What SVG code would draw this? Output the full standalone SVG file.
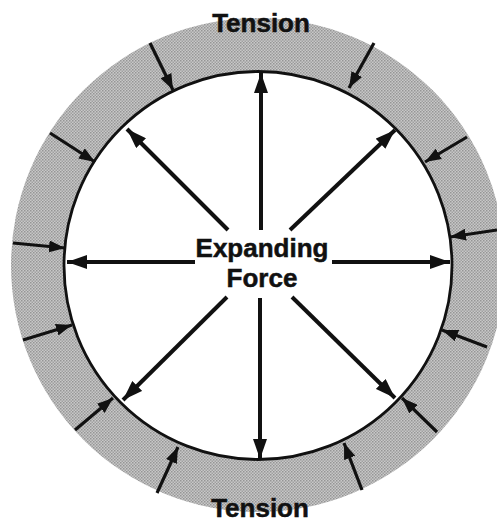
<svg xmlns="http://www.w3.org/2000/svg" width="497" height="522" viewBox="0 0 497 522">
<style>
.lbl{font-family:"Liberation Sans",Arial,sans-serif;font-weight:bold;font-size:26px;fill:#111;stroke:#111;stroke-width:0.5;text-anchor:middle}
.exp{stroke:#111;stroke-width:4;fill:none;marker-end:url(#headL)}
.ten{stroke:#111;stroke-width:3.2;fill:none;marker-end:url(#headS)}
</style>
<defs>
<marker id="headL" markerUnits="userSpaceOnUse" markerWidth="20" markerHeight="14" refX="20" refY="7" orient="auto"><path d="M0,0 L20,7 L0,14 z" fill="#111"/></marker>
<marker id="headS" markerUnits="userSpaceOnUse" markerWidth="16" markerHeight="12" refX="16" refY="6" orient="auto"><path d="M0,0 L16,6 L0,12 z" fill="#111"/></marker>
<pattern id="dots" width="3" height="3" patternUnits="userSpaceOnUse"><rect width="3" height="3" fill="#c8c8c8"/><rect width="1.5" height="1.5" fill="#959595"/><rect x="1.5" y="1.5" width="1.5" height="1.5" fill="#a0a0a0"/></pattern>
</defs>
<rect width="497" height="522" fill="#fff"/>
<g id="ring">
<circle cx="258" cy="265" r="247" fill="url(#dots)"/>
</g>
<g id="inner">
<circle cx="258" cy="265.5" r="194" fill="#fff" stroke="#111" stroke-width="2.8"/>
</g>
<g id="connectors">
<line class="exp" x1="261" y1="230" x2="261" y2="73"/>
<line class="exp" x1="260" y1="298" x2="260" y2="459"/>
<line class="exp" x1="195" y1="262" x2="67" y2="262"/>
<line class="exp" x1="332" y1="262" x2="450" y2="262"/>
<line class="exp" x1="228" y1="230" x2="127" y2="129"/>
<line class="exp" x1="290" y1="230" x2="395" y2="130"/>
<line class="exp" x1="227" y1="297" x2="123" y2="400"/>
<line class="exp" x1="292" y1="297" x2="395" y2="398"/>
<line class="ten" x1="150" y1="43" x2="173" y2="90"/>
<line class="ten" x1="50" y1="133" x2="95" y2="162"/>
<line class="ten" x1="13" y1="243" x2="65" y2="248"/>
<line class="ten" x1="374" y1="43" x2="349" y2="88"/>
<line class="ten" x1="467" y1="137" x2="425" y2="162"/>
<line class="ten" x1="497" y1="230" x2="450" y2="237"/>
<line class="ten" x1="23" y1="340" x2="72" y2="325"/>
<line class="ten" x1="75" y1="430" x2="113" y2="398"/>
<line class="ten" x1="157" y1="493" x2="178" y2="447"/>
<line class="ten" x1="487" y1="347" x2="442" y2="330"/>
<line class="ten" x1="437" y1="432" x2="402" y2="398"/>
<line class="ten" x1="362" y1="490" x2="344" y2="443"/>
</g>
<g id="label-top"><text class="lbl" x="261" y="32">Tension</text></g>
<g id="label-bottom"><text class="lbl" x="260" y="517">Tension</text></g>
<g id="label-center"><text class="lbl" x="262" y="257">Expanding</text><text class="lbl" x="262" y="287">Force</text></g>
</svg>
